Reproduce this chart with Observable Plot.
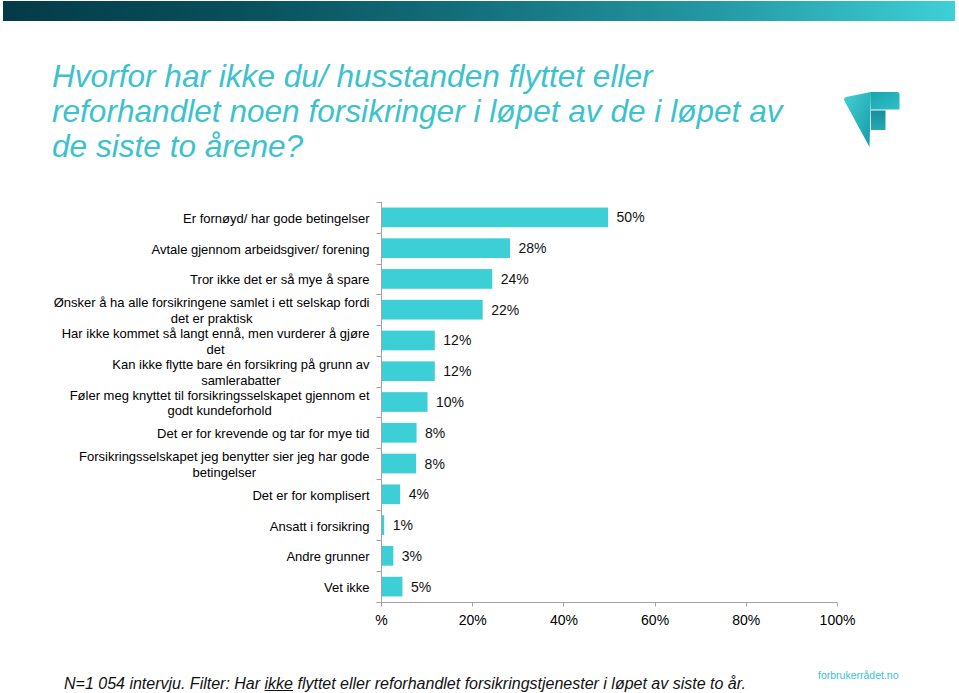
<!DOCTYPE html>
<html><head><meta charset="utf-8">
<script src="https://cdn.jsdelivr.net/npm/d3@7"></script>
<script src="https://cdn.jsdelivr.net/npm/@observablehq/plot@0.6"></script>
<style>
body{margin:0;width:959px;height:693px;position:relative;overflow:hidden;background:#fff;font-family:"Liberation Sans",Arial,sans-serif;}
#band{position:absolute;left:3px;top:1px;width:952px;height:20px;background:linear-gradient(to right,#053a48 0%,#08505c 25%,#14717d 50%,#2499a4 75%,#3dd0d7 100%);}
#title{position:absolute;left:52px;top:59px;font-size:31.6px;line-height:35px;font-style:italic;color:#3cc2cd;margin:0;font-weight:normal;}
#logo{position:absolute;left:840px;top:88px;}
#chart{position:absolute;left:0;top:185px;}
#footer{position:absolute;left:64px;top:675px;font-style:italic;font-size:16px;line-height:18px;color:#111;white-space:nowrap;}
#site{position:absolute;left:818px;top:669px;font-size:10.5px;line-height:13px;color:#3cc2cd;white-space:nowrap;}
</style>
</head><body>
<div id="band"></div>
<h1 id="title">Hvorfor har ikke du/ husstanden flyttet eller<br>reforhandlet noen forsikringer i løpet av de i løpet av<br>de siste to årene?</h1>
<svg id="logo" width="65" height="65" viewBox="0 0 65 65">
  <defs>
    <linearGradient id="g1" x1="0" y1="0" x2="1" y2="1">
      <stop offset="0" stop-color="#45d0d6"/><stop offset="1" stop-color="#159aa6"/>
    </linearGradient>
    <linearGradient id="g2" x1="0" y1="0" x2="1" y2="1">
      <stop offset="0" stop-color="#1aa4ae"/><stop offset="1" stop-color="#2ec0c9"/>
    </linearGradient>
    <linearGradient id="g3" x1="0" y1="0" x2="0" y2="1">
      <stop offset="0" stop-color="#178f9b"/><stop offset="1" stop-color="#23aab4"/>
    </linearGradient>
  </defs>
  <path d="M6,9 Q3,10 4.5,13 L29.5,59 L31,4 Z" fill="url(#g1)"/>
  <path d="M31,4 L57,4 Q59.5,4 59.5,6.5 L59.5,21.5 L31,21.5 Z" fill="url(#g2)"/>
  <rect x="31" y="22.5" width="14.5" height="19.5" fill="url(#g3)"/>
</svg>
<div id="chart"></div>
<div id="footer">N=1 054 intervju. Filter: Har <span style="text-decoration:underline">ikke</span> flyttet eller reforhandlet forsikringstjenester i løpet av siste to år.</div>
<div id="site">forbrukerrådet.no</div>
<script>
const categories = [
  "Er fornøyd/ har gode betingelser",
  "Avtale gjennom arbeidsgiver/ forening",
  "Tror ikke det er så mye å spare",
  "Ønsker å ha alle forsikringene samlet i ett selskap fordi\ndet er praktisk",
  "Har ikke kommet så langt ennå, men vurderer å gjøre\ndet",
  "Kan ikke flytte bare én forsikring på grunn av\nsamlerabatter",
  "Føler meg knyttet til forsikringsselskapet gjennom et\ngodt kundeforhold",
  "Det er for krevende og tar for mye tid",
  "Forsikringsselskapet jeg benytter sier jeg har gode\nbetingelser",
  "Det er for komplisert",
  "Ansatt i forsikring",
  "Andre grunner",
  "Vet ikke"
];
const values = [49.8, 28.3, 24.4, 22.3, 11.8, 11.8, 10.2, 7.8, 7.7, 4.2, 0.7, 2.7, 4.7];
const xTicks = [0, 20, 40, 60, 80, 100];
const xTickLabels = ["%", "20%", "40%", "60%", "80%", "100%"];

const table = categories.map((c, i) => ({category: c, value: values[i]}));
const barColor = "#3ccfd6";
const axisColor = "#a3a3a3";
const pad = 0.36;

const ctx = document.createElement("canvas").getContext("2d");
ctx.font = "13px 'Liberation Sans', Arial, sans-serif";
const maxW = c => Math.max(...c.split("\n").map(s => ctx.measureText(s).width));

function axesMark(index, scales, values, dims) {
  const {x, y} = scales;
  const g = d3.create("svg:g").attr("stroke", axisColor).attr("fill", "none").attr("stroke-width", 1);
  const ys = categories.map(c => y(c));
  const step = ys[1] - ys[0];
  const bw = y.bandwidth ? y.bandwidth() : step * (1 - pad);
  const off = (step - bw) / 2;
  const bounds = ys.map(v => v - off).concat([ys[ys.length - 1] - off + step]);
  const x0 = Math.round(x(0)) + 0.5;
  const top = bounds[0], bottom = Math.round(bounds[bounds.length - 1]) + 0.5;
  g.append("line").attr("x1", x0).attr("x2", x0).attr("y1", top).attr("y2", bottom);
  bounds.forEach(b => g.append("line").attr("x1", x0 - 5).attr("x2", x0).attr("y1", Math.round(b) + 0.5).attr("y2", Math.round(b) + 0.5));
  g.append("line").attr("x1", x0 - 5).attr("x2", x(100)).attr("y1", bottom).attr("y2", bottom);
  xTicks.forEach(t => {
    const xt = Math.round(x(t)) + 0.5;
    g.append("line").attr("x1", xt).attr("x2", xt).attr("y1", bottom).attr("y2", bottom + 4);
  });
  return g.node();
}

const labelMarks = categories.map(c => Plot.text([c], {
  x: () => 0, y: d => d, text: d => d,
  textAnchor: "middle", lineAnchor: "middle", lineHeight: 1.2,
  dx: -(12 + maxW(c) / 2), fontSize: 13, fill: "#000"
}));

const plot = Plot.plot({
  width: 959,
  height: 460,
  marginTop: 17,
  marginBottom: 43,
  marginLeft: 381,
  marginRight: 122,
  style: {fontFamily: "'Liberation Sans', Arial, sans-serif", color: "#000", background: "transparent", overflow: "visible"},
  x: {domain: [0, 100], axis: null},
  y: {domain: categories, paddingInner: pad, paddingOuter: pad / 2, round: false, axis: null},
  marks: [
    Plot.barX(table, {x: "value", y: "category", fill: barColor}),
    axesMark,
    Plot.axisX({ticks: xTicks, tickFormat: d => xTickLabels[xTicks.indexOf(d)], tickSize: 0, tickPadding: 13, fontSize: 14, fill: "#000", label: null}),
    Plot.text(table, {x: "value", y: "category", text: d => Math.round(d.value) + "%", dx: 8, textAnchor: "start", fontSize: 14, fill: "#111"}),
    ...labelMarks
  ]
});
document.getElementById("chart").appendChild(plot);
</script>
</body></html>
